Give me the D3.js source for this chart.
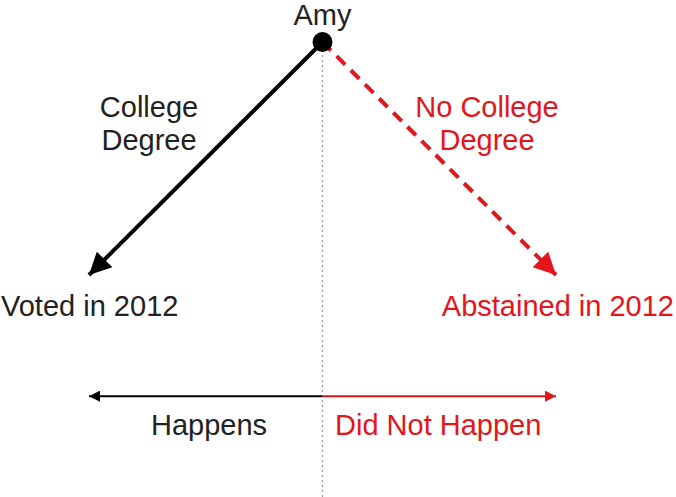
<!DOCTYPE html>
<html>
<head>
<meta charset="utf-8">
<script src="https://cdn.jsdelivr.net/npm/d3@7"></script>
<style>
  body { margin: 0; background: #fff; }
  text { font-family: "Liberation Sans", Arial, sans-serif; font-size: 29px; }
</style>
</head>
<body>
<script>
// logical coordinates: x from -1 (left) to 1 (right), y from 0 (root) to 1 (outcomes)
var root = { name: "Amy", x: 0, y: 0 };
var branchLines = [["College", "Degree"], ["No College", "Degree"]];
var outcomes = ["Voted in 2012", "Abstained in 2012"];
var branchX = [-1, 1];
var outcomeY = 1;
var axisY = 1.52;
var axisLabels = ["Happens", "Did Not Happen"];

var red = "#e5151c";
var colors = ["#000", red];
var textColors = ["#222", red];

var width = 676, height = 497;

var xScale = d3.scaleLinear().domain([-1, 1]).range([89, 556]);
var yScale = d3.scaleLinear().domain([0, 1]).range([42, 275]);

var svg = d3.select("body").append("svg")
	.attr("width", width)
	.attr("height", height);

var defs = svg.append("defs");
colors.forEach(function (c, i) {
	defs.append("marker")
		.attr("id", "big" + i)
		.attr("viewBox", "0 0 10 10")
		.attr("refX", 10).attr("refY", 5)
		.attr("markerUnits", "userSpaceOnUse")
		.attr("markerWidth", 26).attr("markerHeight", 22)
		.attr("orient", "auto")
		.append("path").attr("d", "M0,0L10,5L0,10Z").attr("fill", c);
	defs.append("marker")
		.attr("id", "small" + i)
		.attr("viewBox", "0 0 10 10")
		.attr("refX", 10).attr("refY", 5)
		.attr("markerUnits", "userSpaceOnUse")
		.attr("markerWidth", 13).attr("markerHeight", 11)
		.attr("orient", "auto")
		.append("path").attr("d", "M0,0L10,5L0,10Z").attr("fill", c);
});

// dotted centre line
svg.append("line")
	.attr("x1", xScale(0)).attr("x2", xScale(0))
	.attr("y1", yScale(0) + 8).attr("y2", height)
	.attr("stroke", "#999")
	.attr("stroke-width", 1.3)
	.attr("stroke-dasharray", "2,3");

// branches
var rootX = xScale(root.x), rootY = yScale(root.y);
branchX.forEach(function (bx, i) {
	var tx = xScale(bx), ty = yScale(outcomeY);
	svg.append("line")
		.attr("x1", rootX).attr("y1", rootY)
		.attr("x2", tx).attr("y2", ty)
		.attr("stroke", colors[i])
		.attr("stroke-width", 4)
		.attr("stroke-dasharray", i === 1 ? "12,8" : null)
		.attr("marker-end", "url(#big" + i + ")");

	// branch label
	var lx = i === 0 ? 149 : 487;
	var label = svg.append("text")
		.attr("x", lx)
		.attr("y", 117)
		.attr("text-anchor", "middle")
		.attr("fill", textColors[i]);
	branchLines[i].forEach(function (l, j) {
		label.append("tspan")
			.attr("x", lx)
			.attr("dy", j === 0 ? 0 : 33)
			.text(l);
	});

	// outcome label
	svg.append("text")
		.attr("x", i === 0 ? 1 : width - 2)
		.attr("y", 316)
		.attr("text-anchor", i === 0 ? "start" : "end")
		.attr("fill", textColors[i])
		.text(outcomes[i]);
});

// root node
svg.append("circle")
	.attr("cx", rootX).attr("cy", rootY)
	.attr("r", 10)
	.attr("fill", "#000");
svg.append("text")
	.attr("x", rootX).attr("y", 25)
	.attr("text-anchor", "middle")
	.attr("fill", "#222")
	.text(root.name);

// bottom axis
var ay = yScale(axisY);
branchX.forEach(function (bx, i) {
	svg.append("line")
		.attr("x1", xScale(0)).attr("y1", ay)
		.attr("x2", xScale(bx)).attr("y2", ay)
		.attr("stroke", colors[i])
		.attr("stroke-width", 2)
		.attr("marker-end", "url(#small" + i + ")");
	svg.append("text")
		.attr("x", i === 0 ? 209 : 335)
		.attr("y", 435)
		.attr("text-anchor", i === 0 ? "middle" : "start")
		.attr("fill", textColors[i])
		.text(axisLabels[i]);
});
</script>
</body>
</html>
